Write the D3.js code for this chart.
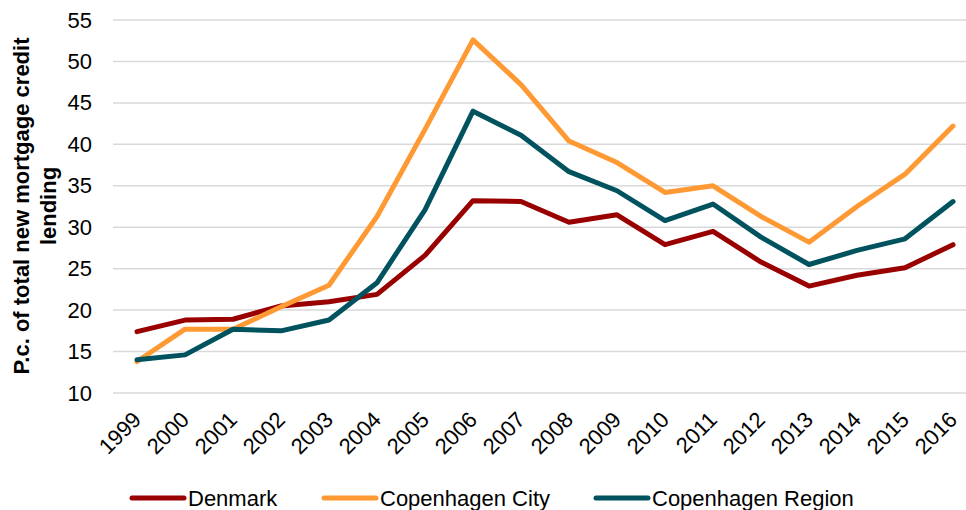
<!DOCTYPE html>
<html>
<head>
<meta charset="utf-8">
<script src="https://cdn.jsdelivr.net/npm/d3@7"></script>
<style>
  body { margin: 0; background: #fff; }
  svg text { font-family: "Liberation Sans", Arial, sans-serif; fill: #000; }
</style>
</head>
<body>
<div id="stage"></div>
<script>
// data
var years = ["1999","2000","2001","2002","2003","2004","2005","2006","2007","2008",
             "2009","2010","2011","2012","2013","2014","2015","2016"];
var denmark = [17.4,18.8,18.9,20.5,21.0,21.9,26.6,33.2,33.1,30.6,31.5,27.9,29.5,25.8,22.9,24.2,25.1,27.9];
var cphCity = [13.8,17.7,17.7,20.4,23.0,31.3,41.8,52.6,47.2,40.4,37.8,34.2,35.0,31.3,28.2,32.5,36.4,42.2];
var cphRegion = [14.0,14.6,17.7,17.5,18.8,23.3,32.1,44.0,41.1,36.7,34.4,30.8,32.8,28.8,25.5,27.2,28.6,33.1];
var yTicks = [10,15,20,25,30,35,40,45,50,55];

var series = [
  {name: "Denmark", values: denmark, colour: "#990000"},
  {name: "Copenhagen City", values: cphCity, colour: "#FF9933"},
  {name: "Copenhagen Region", values: cphRegion, colour: "#00535E"}
];

var W = 966, H = 510;
var plotLeft = 113, plotRight = 977, plotTop = 20, plotBottom = 393;
var fs = 22;

var svg = d3.select("#stage").append("svg")
  .attr("width", W).attr("height", H);

var x = d3.scalePoint().domain(years).range([plotLeft, plotRight]).padding(0.5);
var y = d3.scaleLinear().domain([10, 55]).range([plotBottom, plotTop]);

// gridlines
svg.append("g")
  .selectAll("line")
  .data(yTicks)
  .enter().append("line")
  .attr("x1", plotLeft).attr("x2", W)
  .attr("y1", function(d){ return y(d); })
  .attr("y2", function(d){ return y(d); })
  .attr("stroke", "#d9d9d9")
  .attr("stroke-width", 1.5);

// y axis labels
var yAxis = svg.append("g")
  .attr("transform", "translate(92,0)")
  .call(d3.axisLeft(y).tickValues(yTicks).tickSize(0).tickPadding(0));
yAxis.select(".domain").remove();
yAxis.selectAll("text")
  .attr("font-size", fs)
  .attr("font-family", "Liberation Sans, Arial, sans-serif")
  .attr("fill", "#000");

// x axis labels rotated
var xAxis = svg.append("g")
  .attr("transform", "translate(0," + plotBottom + ")")
  .call(d3.axisBottom(x).tickSize(0).tickPadding(0));
xAxis.select(".domain").remove();
xAxis.selectAll("text")
  .attr("font-size", fs)
  .attr("font-family", "Liberation Sans, Arial, sans-serif")
  .attr("fill", "#000")
  .attr("text-anchor", "end")
  .attr("dy", "0")
  .attr("y", 0)
  .attr("transform", "translate(5,28) rotate(-45)");

// y axis title
var title = svg.append("text")
  .attr("transform", "translate(36,206) rotate(-90)")
  .attr("text-anchor", "middle")
  .attr("font-size", fs)
  .attr("font-weight", "bold");
title.append("tspan").attr("x", 0).attr("dy", "-0.3em").text("P.c. of total new mortgage credit");
title.append("tspan").attr("x", 0).attr("dy", "1.22em").text("lending");

// lines
var line = d3.line()
  .x(function(d, i){ return x(years[i]); })
  .y(function(d){ return y(d); });

svg.selectAll(".series")
  .data(series)
  .enter().append("path")
  .attr("class", "series")
  .attr("d", function(s){ return line(s.values); })
  .attr("fill", "none")
  .attr("stroke", function(s){ return s.colour; })
  .attr("stroke-width", 5)
  .attr("stroke-linejoin", "round")
  .attr("stroke-linecap", "round");

// legend
var legendX = [130, 322, 594];
var lg = svg.selectAll(".legend")
  .data(series)
  .enter().append("g")
  .attr("class", "legend")
  .attr("transform", function(s, i){ return "translate(" + legendX[i] + ",498)"; });
lg.append("line")
  .attr("x1", 2).attr("x2", 54)
  .attr("y1", 0).attr("y2", 0)
  .attr("stroke", function(s){ return s.colour; })
  .attr("stroke-width", 5)
  .attr("stroke-linecap", "round");
lg.append("text")
  .attr("x", 58).attr("y", 0).attr("dy", "0.35em")
  .attr("font-size", fs)
  .text(function(s){ return s.name; });
</script>
</body>
</html>
